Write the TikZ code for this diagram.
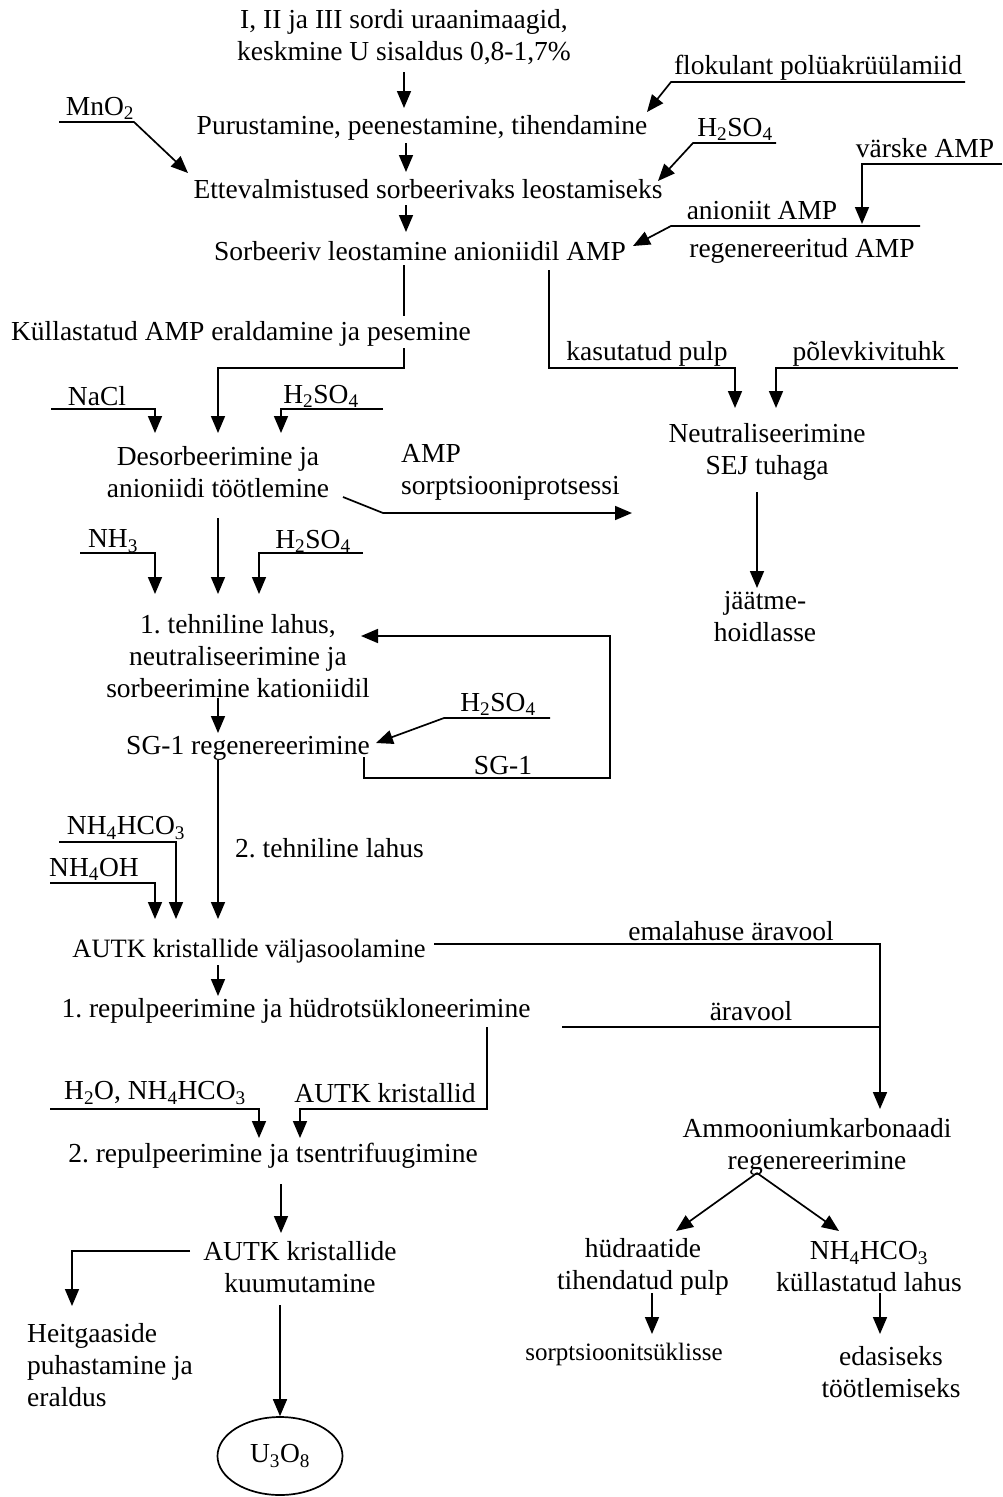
\documentclass[tikz,border=0pt]{standalone}
\usepackage{fontspec}
\setmainfont{Liberation Serif}
\usetikzlibrary{arrows.meta,shapes.geometric}
\frenchspacing
\begin{document}
\begin{tikzpicture}[x=1pt,y=-1pt,
  every node/.style={inner sep=0pt, font=\fontsize{27.5}{32}\selectfont},
  txt/.style={align=center},
  ln/.style={line width=1.7pt},
  arr/.style={line width=1.7pt,-{Triangle[length=17pt,width=14pt]}},
]
\useasboundingbox (0,0) rectangle (1002,1497);

% ---------- nodes ----------
\node[txt] (ore) at (404,37) {I, II ja III sordi uraanimaagid,\\keskmine U sisaldus 0,8-1,7\%};
\node (purus) at (422,128) {Purustamine, peenestamine, tihendamine};
\node (floc) at (818,68) {flokulant polüakrüülamiid};
\node (mno) at (100,108) {MnO\textsubscript{2}};
\node (h2a) at (735,129) {H\textsubscript{2}SO\textsubscript{4}};
\node (ette) at (428,189) {Ettevalmistused sorbeerivaks leostamiseks};
\node (varske) at (925,148) {värske AMP};
\node (anioniit) at (762,211) {anioniit AMP};
\node (regenAMP) at (802,251) {regenereeritud AMP};
\node (sorb) at (420,251) {Sorbeeriv leostamine anioniidil AMP};
\node (kull) at (241,334) {Küllastatud AMP eraldamine ja pesemine};
\node (kasut) at (647,354) {kasutatud pulp};
\node (polev) at (869,354) {põlevkivituhk};
\node[txt] (neutr) at (767,452) {Neutraliseerimine\\SEJ tuhaga};
\node[txt] (jaatme) at (765,617) {jäätme-\\hoidlasse};
\node (nacl) at (97,396) {NaCl};
\node (h2b) at (321,396) {H\textsubscript{2}SO\textsubscript{4}};
\node[txt] (desorb) at (218,472) {Desorbeerimine ja\\anioniidi töötlemine};
\node[align=left,anchor=west] (ampsorp) at (401,472) {AMP\\sorptsiooniprotsessi};
\node (nh3) at (113,541) {NH\textsubscript{3}};
\node (h2c) at (313,541) {H\textsubscript{2}SO\textsubscript{4}};
\node[txt] (tehn1) at (238,656) {1. tehniline lahus,\\neutraliseerimine ja\\sorbeerimine kationiidil};
\node (h2d) at (498,704) {H\textsubscript{2}SO\textsubscript{4}};
\node (sgreg) at (248,748) {SG-1 regenereerimine};
\node (sg1) at (503,766) {SG-1};
\node[anchor=west] (tehn2) at (235,848) {2. tehniline lahus};
\node (nhco3a) at (126,828) {NH\textsubscript{4}HCO\textsubscript{3}};
\node (nh4oh) at (94,869) {NH\textsubscript{4}OH};
\node[font=\fontsize{26.5}{32}\selectfont] (autkv) at (249,951) {AUTK kristallide väljasoolamine};
\node (emal) at (731,931) {emalahuse äravool};
\node (repul1) at (296,1011) {1. repulpeerimine ja hüdrotsükloneerimine};
\node (aravool) at (751,1011) {äravool};
\node (h2o) at (155,1093) {H\textsubscript{2}O, NH\textsubscript{4}HCO\textsubscript{3}};
\node (autkk) at (385,1093) {AUTK kristallid};
\node (repul2) at (273,1156) {2. repulpeerimine ja tsentrifuugimine};
\node[txt] (ammoon) at (817,1147) {Ammooniumkarbonaadi\\regenereerimine};
\node[txt] (hudr) at (643,1267) {hüdraatide\\tihendatud pulp};
\node[txt] (nhsat) at (869,1267) {NH\textsubscript{4}HCO\textsubscript{3}\\küllastatud lahus};
\node[font=\fontsize{25}{32}\selectfont] (sorpts) at (624,1354) {sorptsioonitsüklisse};
\node[txt] (edas) at (891,1372) {edasiseks\\töötlemiseks};
\node[txt] (autkh) at (300,1267) {AUTK kristallide\\kuumutamine};
\node[align=left,anchor=west] (heit) at (27,1365) {Heitgaaside\\puhastamine ja\\eraldus};
\node[draw,ellipse,line width=1.7pt,minimum width=125pt,minimum height=78pt] (u3o8) at (280,1456) {U\textsubscript{3}O\textsubscript{8}};

% ---------- coordinates ----------
\coordinate (a1s) at (404,72);   \coordinate (a1e) at (404,108);
\coordinate (fl1) at (965,82);   \coordinate (fl2) at (671,82);   \coordinate (fle) at (647,112);
\coordinate (mn1) at (59,122);   \coordinate (mn2) at (134,122);  \coordinate (mne) at (188,173);
\coordinate (a2s) at (406,143);  \coordinate (a2e) at (406,172);
\coordinate (ha1) at (776,143);  \coordinate (ha2) at (693,143);  \coordinate (hae) at (658,181);
\coordinate (a3s) at (406,205);  \coordinate (a3e) at (406,232);
\coordinate (va1) at (1002,164); \coordinate (va2) at (862,164);  \coordinate (vae) at (862,224);
\coordinate (an1) at (920,226);  \coordinate (an2) at (671,226);  \coordinate (ane) at (633,246);
\coordinate (s1) at (404,265);   \coordinate (s2) at (404,316);
\coordinate (s3) at (404,348);   \coordinate (s4) at (404,368);   \coordinate (s5) at (218,368); \coordinate (s6) at (218,433);
\coordinate (k1) at (549,270);   \coordinate (k2) at (549,368);   \coordinate (k3) at (735,368); \coordinate (k4) at (735,408);
\coordinate (p1) at (958,368);   \coordinate (p2) at (776,368);   \coordinate (p3) at (776,408);
\coordinate (j1) at (757,492);   \coordinate (j2) at (757,588);
\coordinate (na1) at (51,409);   \coordinate (na2) at (155,409);  \coordinate (na3) at (155,433);
\coordinate (hb1) at (383,409);  \coordinate (hb2) at (281,409);  \coordinate (hb3) at (281,433);
\coordinate (d1) at (343,497);   \coordinate (d2) at (383,513);   \coordinate (d3) at (632,513);
\coordinate (m1) at (218,518);   \coordinate (m2) at (218,594);
\coordinate (n31) at (80,553);   \coordinate (n32) at (155,553);  \coordinate (n33) at (155,594);
\coordinate (hc1) at (363,553);  \coordinate (hc2) at (259,553);  \coordinate (hc3) at (259,594);
\coordinate (f1) at (364,757);   \coordinate (f2) at (364,778);   \coordinate (f3) at (610,778); \coordinate (f4) at (610,636); \coordinate (f5) at (361,636);
\coordinate (hd1) at (550,718);  \coordinate (hd2) at (444,718);  \coordinate (hd3) at (376,743);
\coordinate (t1s) at (218,698);  \coordinate (t1e) at (218,733);
\coordinate (g1) at (218,760);   \coordinate (g2) at (218,919);
\coordinate (nc1) at (59,842);   \coordinate (nc2) at (176,842);  \coordinate (nc3) at (176,919);
\coordinate (no1) at (50,883);   \coordinate (no2) at (155,883);  \coordinate (no3) at (155,919);
\coordinate (e1) at (434,944);   \coordinate (e2) at (880,944);   \coordinate (e3) at (880,1109);
\coordinate (r1) at (562,1027);  \coordinate (r2) at (880,1027);
\coordinate (v1) at (218,965);   \coordinate (v2) at (218,996);
\coordinate (h1) at (487,1027);  \coordinate (h2) at (487,1109);  \coordinate (h3) at (300,1109); \coordinate (h4) at (300,1138);
\coordinate (w1) at (50,1109);   \coordinate (w2) at (259,1109);  \coordinate (w3) at (259,1138);
\coordinate (am) at (757,1173);  \coordinate (aml) at (676,1231); \coordinate (amr) at (839,1231);
\coordinate (hu1) at (652,1293); \coordinate (hu2) at (652,1334);
\coordinate (ns1) at (880,1293); \coordinate (ns2) at (880,1334);
\coordinate (c1) at (281,1184);  \coordinate (c2) at (281,1233);
\coordinate (x1) at (190,1251);  \coordinate (x2) at (72,1251);   \coordinate (x3) at (72,1306);
\coordinate (u1) at (280,1305);

% ---------- connectors ----------
\draw[arr] (a1s) -- (a1e);
\draw[arr] (fl1) -- (fl2) -- (fle);
\draw[arr] (mn1) -- (mn2) -- (mne);
\draw[arr] (a2s) -- (a2e);
\draw[arr] (ha1) -- (ha2) -- (hae);
\draw[arr] (a3s) -- (a3e);
\draw[arr] (va1) -- (va2) -- (vae);
\draw[arr] (an1) -- (an2) -- (ane);
\draw[ln] (s1) -- (s2);
\draw[arr] (s3) -- (s4) -- (s5) -- (s6);
\draw[arr] (k1) -- (k2) -- (k3) -- (k4);
\draw[arr] (p1) -- (p2) -- (p3);
\draw[arr] (j1) -- (j2);
\draw[arr] (na1) -- (na2) -- (na3);
\draw[arr] (hb1) -- (hb2) -- (hb3);
\draw[arr] (d1) -- (d2) -- (d3);
\draw[arr] (m1) -- (m2);
\draw[arr] (n31) -- (n32) -- (n33);
\draw[arr] (hc1) -- (hc2) -- (hc3);
\draw[arr] (f1) -- (f2) -- (f3) -- (f4) -- (f5);
\draw[arr] (hd1) -- (hd2) -- (hd3);
\draw[arr] (t1s) -- (t1e);
\draw[arr] (g1) -- (g2);
\draw[arr] (nc1) -- (nc2) -- (nc3);
\draw[arr] (no1) -- (no2) -- (no3);
\draw[arr] (e1) -- (e2) -- (e3);
\draw[ln] (r1) -- (r2);
\draw[arr] (v1) -- (v2);
\draw[arr] (h1) -- (h2) -- (h3) -- (h4);
\draw[arr] (w1) -- (w2) -- (w3);
\draw[arr] (am) -- (aml);
\draw[arr] (am) -- (amr);
\draw[arr] (hu1) -- (hu2);
\draw[arr] (ns1) -- (ns2);
\draw[arr] (c1) -- (c2);
\draw[arr] (x1) -- (x2) -- (x3);
\draw[arr] (u1) -- (u3o8.north);
\end{tikzpicture}
\end{document}
